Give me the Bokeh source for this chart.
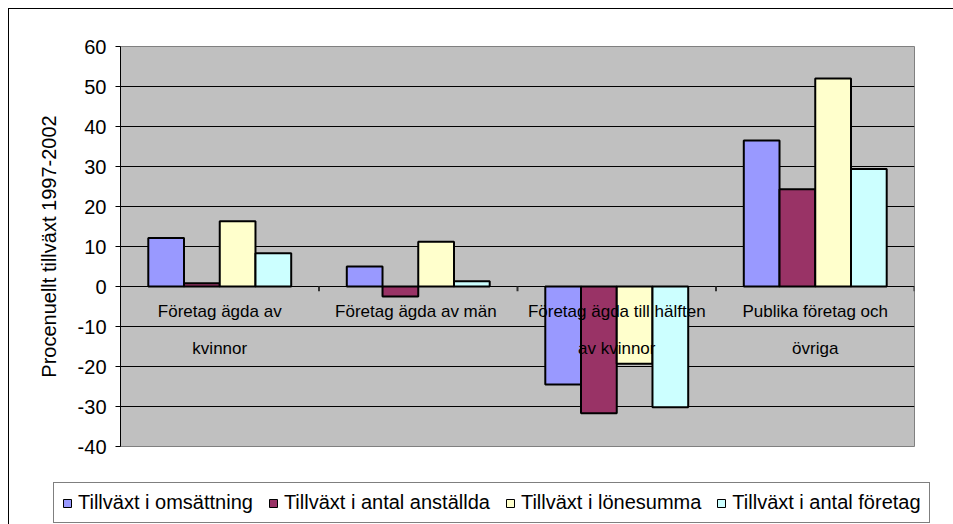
from bokeh.plotting import figure
from bokeh.layouts import column
from bokeh.models import (Range1d, Legend, LegendItem, FixedTicker, ColumnDataSource)
from bokeh.core.properties import value
from bokeh.embed import file_html
from bokeh.resources import INLINE

# ---- data ----
categories_line1 = ["Företag ägda av", "Företag ägda av  män", "Företag ägda till hälften", "Publika företag och"]
categories_line2 = ["kvinnor", "", "av kvinnor", "övriga"]
series_names = ["Tillväxt i omsättning", "Tillväxt i antal anställda",
                "Tillväxt i lönesumma", "Tillväxt i antal företag"]
omsattning = [12.1, 5.0, -24.5, 36.5]
anstallda = [0.8, -2.5, -31.7, 24.3]
lonesumma = [16.3, 11.2, -19.3, 52.0]
antal_foretag = [8.3, 1.3, -30.2, 29.4]
y_ticks = [-40, -30, -20, -10, 0, 10, 20, 30, 40, 50, 60]
y_label = "Procenuellt tillväxt 1997-2002"

# ---- style ----
colors = ["#9999FF", "#993366", "#FFFFCC", "#CCFFFF"]
offsets = [-0.27, -0.09, 0.09, 0.27]
bar_width = 0.18
FONT = "Liberation Sans"

p = figure(width=944, height=466, x_range=Range1d(0, len(categories_line1)),
           y_range=Range1d(y_ticks[0], y_ticks[-1]),
           output_backend="svg", toolbar_location=None, x_axis_location=None,
           min_border_left=111, min_border_right=39, min_border_top=37, min_border_bottom=29,
           background_fill_color="#C0C0C0", border_fill_color="white",
           outline_line_color="#808080", outline_line_width=1, frame_align=False)

p.xgrid.visible = False
p.ygrid.ticker = FixedTicker(ticks=y_ticks)
p.ygrid.grid_line_color = "black"
p.ygrid.grid_line_width = 1

ax = p.yaxis[0]
ax.ticker = FixedTicker(ticks=y_ticks)
ax.major_label_overrides = {t: str(t) for t in y_ticks}
ax.axis_line_color = "black"
ax.major_tick_line_color = "black"
ax.major_tick_out = 5
ax.major_tick_in = 0
ax.minor_tick_line_color = None
ax.major_label_text_font = FONT
ax.major_label_text_font_size = "20px"
ax.major_label_text_color = "black"
ax.major_label_standoff = 9
ax.axis_label = y_label
ax.axis_label_text_font = FONT
ax.axis_label_text_font_size = "20px"
ax.axis_label_text_font_style = "normal"
ax.axis_label_text_color = "black"
ax.axis_label_standoff = 15

series = [omsattning, anstallda, lonesumma, antal_foretag]
idx = list(range(len(categories_line1)))
for vals, off, col in zip(series, offsets, colors):
    xs = [i + 0.5 + off for i in idx]
    p.vbar(x=xs, top=vals, bottom=0, width=bar_width, fill_color=col,
           line_color="black", line_width=2)

# category tick marks on the zero line (downward)
bounds = [i + 1 for i in idx]
p.segment(x0=bounds, y0=[0] * len(bounds), x1=bounds, y1=[-1.2] * len(bounds),
          line_color="#333333", line_width=2)

# category labels
centers = [i + 0.5 for i in idx]
src = ColumnDataSource(dict(x=centers, y=[0] * len(centers),
                            t1=categories_line1, t2=categories_line2))
p.text(x="x", y="y", text="t1", source=src, y_offset=25, text_align="center",
       text_baseline="middle", text_font=value(FONT), text_font_size="17px",
       text_color="black")
p.text(x="x", y="y", text="t2", source=src, y_offset=62, text_align="center",
       text_baseline="middle", text_font=value(FONT), text_font_size="17px",
       text_color="black")

# ---- legend strip (separate canvas so the legend may extend beyond the plot frame) ----
q = figure(width=944, height=49, x_range=Range1d(0, 1), y_range=Range1d(0, 1),
           output_backend="svg", toolbar_location=None,
           x_axis_location=None, y_axis_location=None,
           min_border_left=0, min_border_right=0, min_border_top=0, min_border_bottom=0,
           background_fill_color="white", border_fill_color="white",
           outline_line_color=None, frame_align=False)
q.grid.visible = False
leg_renderers = []
for vals, off, col in zip(series, offsets, colors):
    xs = [i + 0.5 + off for i in idx]
    r = q.vbar(x=xs, top=vals, bottom=0, width=bar_width, fill_color=col,
               line_color="black", line_width=1, visible=False)
    leg_renderers.append(r)
legend = Legend(items=[LegendItem(label=n, renderers=[r]) for n, r in zip(series_names, leg_renderers)],
                location=(44, 1), orientation="horizontal",
                border_line_color="black", border_line_width=1,
                background_fill_color="white", background_fill_alpha=1,
                inactive_fill_alpha=0,
                label_text_font=FONT, label_text_font_size="20px",
                label_text_color="black", label_height=23,
                glyph_width=10, glyph_height=10, label_standoff=6, spacing=15,
                padding=8, margin=0)
q.add_layout(legend)

layout = column(p, q, spacing=0,
                styles={"margin-left": "8px", "margin-top": "8px",
                        "border-left": "1px solid black", "border-top": "1px solid black"})

open("out.html", "w").write(file_html(layout, INLINE))
